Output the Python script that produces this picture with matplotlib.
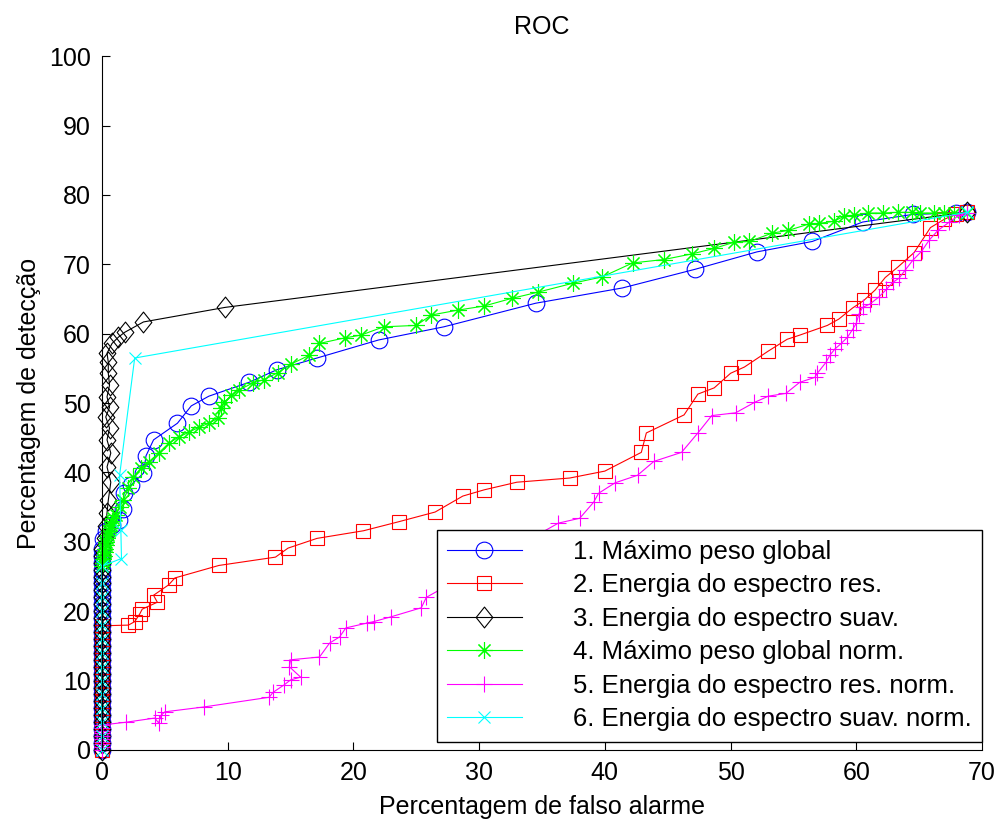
# -*- coding: UTF-8 -*-
import numpy as np
import matplotlib.pyplot as plt
from matplotlib.path import Path

plt.rcParams['font.family'] = ['Liberation Sans', 'DejaVu Sans']

# pontos empilhados sobre o eixo (falso alarme = 0)
col1_y = [0, 1, 2, 3, 4, 5, 6, 7, 8, 9, 10, 11, 12, 13, 14, 15, 16, 17, 18, 19, 20,
          21, 22, 23, 24, 25, 26, 27, 28, 29]
col2_y = [0, 1, 2, 3, 4, 5, 6, 7, 8, 9, 10, 11, 12, 13, 14, 15, 16, 17, 17.9]
col3_y = [0, 1, 2, 3, 4, 5, 6, 7, 8, 9, 10, 11, 12, 13, 14, 15, 16, 17, 18, 19, 20,
          21, 22, 23, 24, 25, 26, 27, 28, 29]
col4_y = [26.5]
col5_y = [0, 0.4, 0.8, 1.2, 1.6, 2.0, 2.4, 2.8, 3.2, 3.6]
col6_y = [0, 2, 4, 6, 8, 10, 12, 14, 16, 18, 20, 22, 24, 26.5]

# 1. Máximo peso global
x1 = [0.1, 0.3, 0.8, 1.35, 1.67, 1.75, 2.3, 3.3, 3.5, 4.1, 6.0, 7.1, 8.5, 11.7, 13.9,
      17.1, 22.0, 27.2, 34.5, 41.4, 47.2, 52.1, 56.5, 60.5, 64.5, 67.9, 68.8]
y1 = [30.4, 31.5, 32.4, 33.1, 34.8, 37.0, 38.2, 39.9, 42.4, 44.7, 47.1, 49.6, 51.0, 53.0, 54.8,
      56.5, 59.1, 61.0, 64.4, 66.6, 69.3, 71.8, 73.3, 76.1, 77.2, 77.4, 77.5]

# 2. Energia do espectro res.
x2 = [2.1, 2.6, 3.0, 3.2, 4.4, 4.1, 5.3, 5.8, 9.3, 13.8, 14.8, 17.1, 20.8, 23.6, 26.5,
      28.7, 30.4, 33.0, 37.2, 40.0, 42.9, 43.3, 46.3, 47.4, 48.7, 50.0, 51.1, 53.0, 54.5,
      55.5, 57.7, 58.6, 59.7, 60.6, 61.5, 62.3, 63.3, 64.6, 65.9, 67.0, 67.9, 68.8]
y2 = [18.0, 18.5, 19.6, 20.3, 21.3, 22.3, 23.8, 24.8, 26.6, 27.8, 29.1, 30.5, 31.6, 32.9, 34.3,
      36.6, 37.5, 38.6, 39.2, 40.2, 42.9, 45.7, 48.3, 51.3, 52.2, 54.3, 55.2, 57.5, 59.2,
      59.8, 61.2, 62.1, 63.7, 64.8, 66.3, 68.1, 69.6, 71.7, 75.3, 76.5, 77.2, 77.5]

# 3. Energia do espectro suav.
x3 = [0.2, 0.3, 0.4, 0.5, 0.7, 0.4, 0.7, 0.4, 0.6, 0.3, 0.6, 0.4, 0.6, 0.5, 0.5, 0.4,
      0.8, 1.3, 1.8, 3.3, 9.8, 68.8]
y3 = [30.5, 32.3, 34.2, 36.0, 38.6, 40.8, 42.8, 44.7, 46.4, 48.0, 49.4, 50.9, 52.6, 54.3, 55.9, 57.2,
      58.6, 59.5, 60.2, 61.7, 63.8, 77.5]

# 4. Máximo peso global norm.
x4 = [0.05, 0.1, 0.15, 0.2, 0.25, 0.3, 0.35, 0.4, 0.5, 0.55, 0.6, 0.7, 0.8, 0.9, 1.1, 1.4,
      1.7, 2.1, 2.5, 3.1, 3.7, 4.5, 5.3, 6.1, 6.9, 7.7, 8.5, 9.2, 9.5, 9.7, 10.3, 10.9,
      12.0, 12.9, 14.0, 15.0, 16.5, 17.3, 19.3, 20.6, 22.4, 25.0, 26.2, 28.3, 30.4, 32.6,
      34.7, 37.5, 39.8, 42.2, 44.7, 46.9, 48.7, 50.3, 51.5, 53.3, 54.6, 56.2, 57.0, 58.2,
      59.0, 59.8, 60.9, 62.1, 63.3, 64.4, 65.1, 66.2, 67.0, 67.8, 68.8]
y4 = [27.0, 27.5, 28.0, 28.5, 29.0, 29.5, 30.0, 30.5, 31.0, 31.5, 32.0, 32.5, 33.0, 33.5, 33.9, 35.0,
      36.0, 37.7, 39.3, 40.6, 41.5, 42.8, 44.2, 45.1, 45.8, 46.5, 47.1, 47.8, 49.3, 50.1, 51.1, 51.9,
      52.9, 53.4, 54.4, 55.6, 56.9, 58.6, 59.4, 59.8, 61.0, 61.2, 62.7, 63.4, 64.0, 65.1,
      66.0, 67.3, 68.2, 70.2, 70.7, 71.5, 72.3, 73.2, 73.3, 74.5, 74.9, 75.8, 75.9, 76.2,
      76.9, 77.1, 77.4, 77.4, 77.5, 77.5, 77.4, 77.4, 77.4, 77.4, 77.4]

# 5. Energia do espectro res. norm.
x5 = [1.9, 4.2, 4.5, 4.7, 5.0, 8.1, 13.3, 13.6, 14.5, 15.0, 15.8, 14.9, 15.0, 17.3, 18.1,
      18.9, 19.4, 21.1, 21.6, 23.0, 25.4, 25.8, 36.3, 38.0, 39.1, 39.5, 40.8, 42.6, 43.9,
      46.1, 47.4, 48.5, 50.4, 51.9, 53.0, 54.4, 55.5, 56.7, 56.9, 57.6, 57.9, 58.3, 58.8,
      59.3, 59.7, 60.0, 60.2, 60.5, 61.1, 61.8, 62.4, 62.9, 63.4, 63.9, 64.5, 65.2, 65.8,
      66.5, 67.4, 68.2, 68.8]
y5 = [4.0, 4.6, 3.9, 5.0, 5.5, 6.2, 7.6, 8.3, 9.4, 10.1, 10.5, 12.0, 13.0, 13.4, 15.4,
      16.3, 17.6, 18.3, 18.5, 19.2, 20.5, 22.0, 32.7, 33.4, 35.7, 37.0, 38.5, 39.6, 41.6,
      42.9, 45.7, 48.2, 48.6, 50.1, 51.0, 51.4, 53.0, 53.7, 54.3, 55.9, 56.9, 57.8, 58.6,
      59.5, 60.6, 61.5, 62.8, 63.8, 64.3, 65.3, 66.4, 67.4, 68.0, 69.2, 70.6, 71.9, 73.5,
      74.9, 76.1, 77.1, 77.4]

# 6. Energia do espectro suav. norm.
x6 = [1.55, 1.5, 1.4, 2.6, 68.8]
y6 = [27.6, 31.7, 39.6, 56.5, 77.5]

labels = ['1. Máximo peso global', '2. Energia do espectro res.',
          '3. Energia do espectro suav.', '4. Máximo peso global norm.',
          '5. Energia do espectro res. norm.', '6. Energia do espectro suav. norm.']

# losango um pouco mais alto que largo, como no MATLAB
diamond = Path([(0, 1), (0.8, 0), (0, -1), (-0.8, 0), (0, 1)],
               [Path.MOVETO, Path.LINETO, Path.LINETO, Path.LINETO, Path.CLOSEPOLY])

series = [
    (col1_y, x1, y1, 'blue', 'o', 12),
    (col2_y, x2, y2, 'red', 's', 10),
    (col3_y, x3, y3, 'black', diamond, 15),
    (col4_y, x4, y4, '#00ff00', (8, 2, 0), 12),
    (col5_y, x5, y5, 'magenta', '+', 11),
    (col6_y, x6, y6, 'cyan', 'x', 9),
]

fs = 18

fig = plt.figure(figsize=(10, 8.21), dpi=100)
ax = fig.add_axes([0.102, 0.0865, 0.88, 0.845])

for (col, xs, ys, c, m, ms), lab in zip(series, labels):
    xx = [0.0] * len(col) + xs
    yy = col + ys
    ax.plot(xx, yy, color=c, marker=m, markersize=ms, markerfacecolor='none',
            markeredgecolor=c, markeredgewidth=0.8, linewidth=0.8,
            label=lab, clip_on=False)

ax.set_xlim(0, 70)
ax.set_ylim(0, 100)
ax.set_xticks(np.arange(0, 71, 10))
ax.set_yticks(np.arange(0, 101, 10))
ax.spines['top'].set_visible(False)
ax.spines['right'].set_visible(False)
ax.tick_params(direction='in', length=6, width=0.8, labelsize=fs)
ax.tick_params(axis='x', pad=8)
ax.tick_params(axis='y', pad=8)

ax.set_title('ROC', fontsize=fs, pad=16)
ax.set_xlabel('Percentagem de falso alarme', fontsize=fs, labelpad=7)
ax.set_ylabel('Percentagem de detecção', fontsize=fs, labelpad=6)

leg = ax.legend(loc='lower right', bbox_to_anchor=(1.0, 0.012), borderaxespad=0,
                fontsize=18.5, fancybox=False, framealpha=1, edgecolor='black',
                handlelength=2.9, handletextpad=2.0, labelspacing=0.37,
                borderpad=0.4, numpoints=1)
leg.get_frame().set_linewidth(1.0)

plt.savefig('out.png', dpi=100)
